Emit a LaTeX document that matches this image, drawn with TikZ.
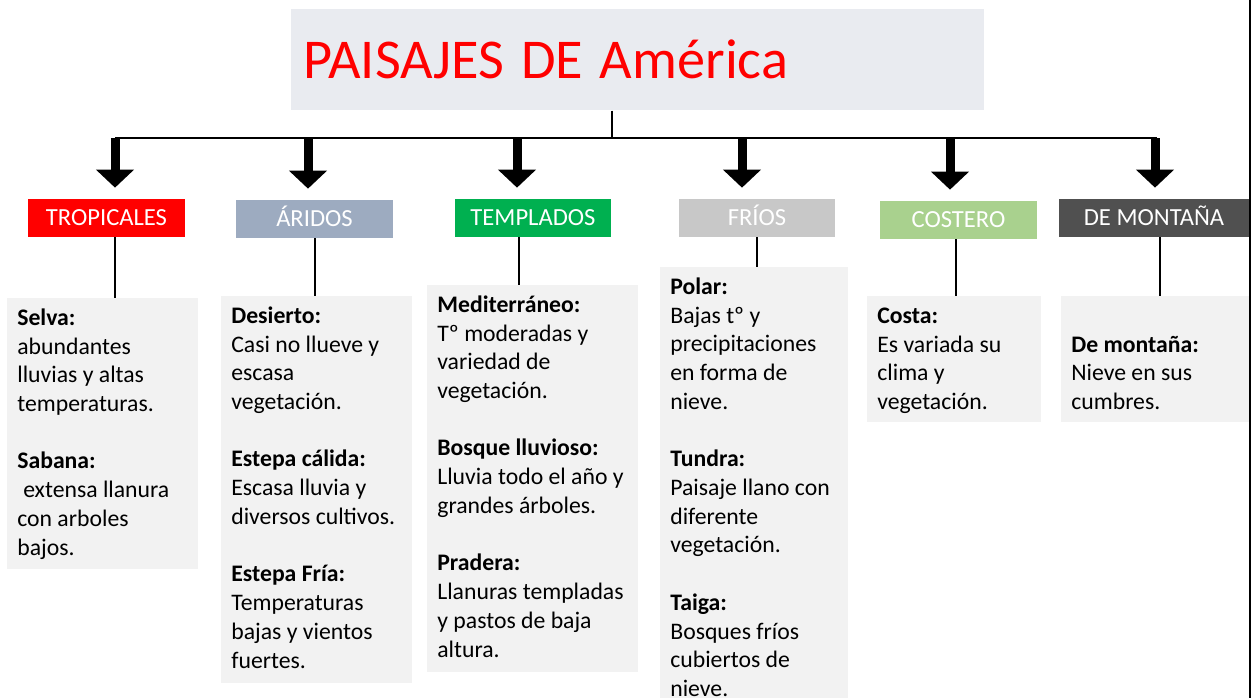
\documentclass[tikz,border=0pt]{standalone}
\usepackage{fontspec}
\setmainfont{Carlito}
\usetikzlibrary{arrows.meta,positioning}

\definecolor{titulogris}{RGB}{233,235,240}
\definecolor{cajagris}{RGB}{242,242,242}
\definecolor{rojo}{RGB}{255,0,0}
\definecolor{aridoazul}{RGB}{157,171,192}
\definecolor{verde}{RGB}{0,176,80}
\definecolor{friogris}{RGB}{200,200,200}
\definecolor{costaverde}{RGB}{169,209,142}
\definecolor{montegris}{RGB}{80,80,80}

% caja de texto alineada arriba: alto, ancho, contenido
\newcommand{\cajatexto}[3]{\parbox[c][#1][t]{#2}{\vspace*{3.9pt}\strut#3}}

\tikzset{
	catbox/.style={minimum width=3.14cm,minimum height=0.76cm,inner sep=0pt,text height=9pt,text depth=0pt,text=white,font=\fontsize{14}{16}\selectfont},
	infobox/.style={fill=cajagris,anchor=north west,inner xsep=0.2cm,inner ysep=0pt,font=\fontsize{13.5}{16.35}\selectfont},
	bigarrow/.style={line width=0.18cm,-{Triangle[width=0.74cm,length=0.36cm]},shorten >=0.22cm},
	linea/.style={line width=0.9pt}
}

\begin{document}
\begin{tikzpicture}[x=0.02cm,y=-0.02cm]
	\useasboundingbox (0,0) rectangle (1253,698);

	\node[fill=titulogris,anchor=north west,minimum width=13.86cm,minimum height=2.02cm,inner xsep=0.24cm,inner ysep=0pt,text width=13.38cm,align=left,text=rojo,font=\fontsize{32}{36}\selectfont] (titulo) at (291,9) {PAISAJES\hspace{0.3em}DE\hspace{0.3em}América};

	\node[catbox,fill=rojo] (trop) at (106.5,218) {TROPICALES};
	\node[catbox,fill=aridoazul] (arid) at (314.5,219) {ÁRIDOS};
	\node[catbox,fill=verde] (temp) at (533,218) {TEMPLADOS};
	\node[catbox,fill=friogris] (frio) at (757,218) {FRÍOS};
	\node[catbox,fill=costaverde] (cost) at (958.5,220) {COSTERO};
	\node[catbox,fill=montegris,minimum width=3.8cm] (mont) at (1154,218) {DE MONTAÑA};

	\node[infobox] (selva) at (7,298) {\cajatexto{5.42cm}{3.42cm}{\textbf{Selva:}\\abundantes\\lluvias y altas\\temperaturas.\\[16.35pt]\textbf{Sabana:}\\\hspace*{0.25em}extensa llanura\\con arboles\\bajos.}};
	\node[infobox] (desierto) at (221,296) {\cajatexto{7.74cm}{3.42cm}{\textbf{Desierto:}\\Casi no llueve y\\escasa\\vegetación.\\[16.35pt]\textbf{Estepa cálida:}\\Escasa lluvia y\\diversos cultivos.\\[16.35pt]\textbf{Estepa Fría:}\\Temperaturas\\bajas y vientos\\fuertes.}};
	\node[infobox] (medit) at (427,285) {\cajatexto{7.74cm}{3.82cm}{\textbf{Mediterráneo:}\\Tº moderadas y\\variedad de\\vegetación.\\[16.35pt]\textbf{Bosque lluvioso:}\\Lluvia todo el año y\\grandes árboles.\\[16.35pt]\textbf{Pradera:}\\Llanuras templadas\\y pastos de baja\\altura.}};
	\node[infobox] (polar) at (660,267) {\cajatexto{8.62cm}{3.36cm}{\textbf{Polar:}\\Bajas tº y\\precipitaciones\\en forma de\\nieve.\\[16.35pt]\textbf{Tundra:}\\Paisaje llano con\\diferente\\vegetación.\\[16.35pt]\textbf{Taiga:}\\Bosques fríos\\cubiertos de\\nieve.}};
	\node[infobox] (costa) at (867,296) {\cajatexto{2.52cm}{3.08cm}{\textbf{Costa:}\\Es variada su\\clima y\\vegetación.}};
	\node[infobox] (montana) at (1061,296) {\cajatexto{2.52cm}{3.36cm}{\\\textbf{De montaña:}\\Nieve en sus\\cumbres.}};

	% barra superior
	\coordinate (tb) at (612,138);
	\coordinate (a1) at (115,138);
	\coordinate (a2) at (308,138);
	\coordinate (a3) at (517,138);
	\coordinate (a4) at (742,138);
	\coordinate (a5) at (950,138);
	\coordinate (a6) at (1155,138);
	\draw[linea] (titulo.south -| tb) -- (tb);
	\draw[linea] (a1) -- ([xshift=0.04cm]a6);

	\draw[bigarrow] (a1) -- (a1 |- trop.north);
	\draw[bigarrow] (a2) -- (a2 |- arid.north);
	\draw[bigarrow] (a3) -- (a3 |- temp.north);
	\draw[bigarrow] (a4) -- (a4 |- frio.north);
	\draw[bigarrow] (a5) -- (a5 |- cost.north);
	\draw[bigarrow] (a6) -- (a6 |- mont.north);

	% lineas a las cajas
	\coordinate (l1) at (115,0);
	\coordinate (l2) at (315,0);
	\coordinate (l3) at (519,0);
	\coordinate (l4) at (757,0);
	\coordinate (l5) at (956,0);
	\coordinate (l6) at (1160,0);
	\draw[linea] (trop.south -| l1) -- (selva.north -| l1);
	\draw[linea] (arid.south -| l2) -- (desierto.north -| l2);
	\draw[linea] (temp.south -| l3) -- (medit.north -| l3);
	\draw[linea] (frio.south -| l4) -- (polar.north -| l4);
	\draw[linea] (cost.south -| l5) -- (costa.north -| l5);
	\draw[linea] (mont.south -| l6) -- (montana.north -| l6);

	\draw[line width=1.2pt] (1250,0) -- (1250,698);
\end{tikzpicture}
\end{document}
